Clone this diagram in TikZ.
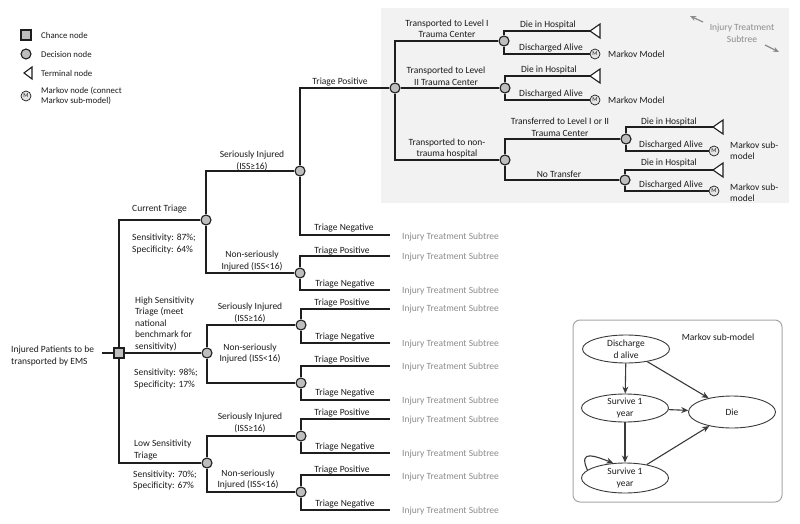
\documentclass[tikz,border=0pt]{standalone}
\usepackage{fontspec}
\setmainfont{Carlito}
\usetikzlibrary{arrows.meta,shapes.geometric}
\definecolor{ln}{HTML}{1E1E1E}
\definecolor{dfill}{HTML}{BEBEBE}
\definecolor{txt}{HTML}{1C1C1C}
\definecolor{subc}{HTML}{8C8C8C}
\definecolor{boxgray}{HTML}{F2F2F2}
\definecolor{mline}{HTML}{3A3A3A}
\tikzset{
  br/.style={draw=ln,line width=1.4pt},
  dec/.style={circle,draw=ln,line width=1.1pt,fill=dfill,minimum size=10pt,inner sep=0pt},
  chn/.style={rectangle,draw=ln,line width=1.1pt,fill=dfill,minimum size=10pt,inner sep=0pt},
  mk/.style={circle,draw=ln,line width=0.7pt,fill=gray!20,minimum size=10pt,inner sep=0pt,text=txt,font=\fontsize{6}{6}\selectfont},
  lbl/.style={text=txt,font=\fontsize{9.5}{11.5}\selectfont,inner sep=0pt,align=center},
  lbll/.style={lbl,align=left,anchor=west},
  lgl/.style={lbll,font=\fontsize{8.8}{10.5}\selectfont},
  subt/.style={text=subc,font=\fontsize{9.5}{11.5}\selectfont,inner sep=0pt,anchor=west},
  trm/.style={draw=ln,line width=1.1pt,fill=white,line join=miter},
  mell/.style={ellipse,draw=mline,line width=0.9pt,fill=white,minimum width=87pt,minimum height=28pt,inner sep=0pt,align=center,text=txt,font=\fontsize{9.5}{11.5}\selectfont},
  marr/.style={draw=mline,line width=1.1pt,-{Stealth[length=7pt,width=6pt]}},
  garr/.style={draw=subc,line width=1.2pt,-{Stealth[length=6pt,width=5pt]}}
}
\newcommand\termtri[2]{\coordinate (#1) at #2; \draw[trm] (#1) -- ++(10,-7) -- ++(0,14) -- cycle;}
\begin{document}
\begin{tikzpicture}[x=1pt,y=-1pt]
\useasboundingbox (0,0) rectangle (800,524);
\fill[white] (0,0) rectangle (800,524);
% shaded subtree box
\fill[boxgray] (381,8) rectangle (789,203);

% ---------- legend ----------
\node[chn] (lgc) at (26,35) {};
\node[lgl] (lgct) at (41,35) {Chance node};
\node[dec] (lgd) at (26,54) {};
\node[lgl] (lgdt) at (41,54) {Decision node};
\coordinate (lgtpos) at (24,73);
\draw[trm] (lgtpos) -- ++(8,-6) -- ++(0,12) -- cycle;
\node[lgl] (lgtt) at (41,73) {Terminal node};
\node[mk] (lgm) at (26,96) {M};
\node[lgl] (lgmt) at (41,96) {Markov node (connect\\Markov sub-model)};

% ---------- root ----------
\node[lbll] (roott) at (11,356) {Injured Patients to be\\transported by EMS};
\coordinate (r0) at (102,353);
\node[chn] (ch) at (119,353) {};
\draw[br] (r0) -- (ch);

% ---------- strategy decisions ----------
\node[dec] (d1) at (206,220) {};
\node[dec] (d2) at (207,353) {};
\node[dec] (d3) at (207,463) {};
\draw[br] (ch) |- (d1);
\draw[br] (ch) -- (d2);
\draw[br] (ch) |- (d3);

\node[lbll] (d1t) at (132,209) {Current Triage};
\node[lbll] (d1s) at (132,244) {Sensitivity: 87\%;\\Specificity: 64\%};
\node[lbll] (d2t) at (135,323.5) {High Sensitivity\\Triage (meet\\national\\benchmark for\\sensitivity)};
\node[lbll] (d2s) at (134,379) {Sensitivity: 98\%;\\Specificity: 17\%};
\node[lbll] (d3t) at (134,450) {Low Sensitivity\\Triage};
\node[lbll] (d3s) at (133,480.5) {Sensitivity: 70\%;\\Specificity: 67\%};

% ---------- injury severity decisions ----------
\node[dec] (s1) at (300,171) {};
\node[dec] (n1) at (300,273) {};
\node[dec] (s2) at (301,325) {};
\node[dec] (n2) at (301,383) {};
\node[dec] (s3) at (301,436) {};
\node[dec] (n3) at (301,492) {};
\draw[br] (d1) |- (s1);
\draw[br] (d1) |- (n1);
\draw[br] (d2) |- (s2);
\draw[br] (d2) |- (n2);
\draw[br] (d3) |- (s3);
\draw[br] (d3) |- (n3);

\node[lbl] (s1t) at (252,161) {Seriously Injured\\(ISS≥16)};
\node[lbl] (n1t) at (252,261) {Non-seriously\\Injured (ISS<16)};
\node[lbl] (s2t) at (250,313) {Seriously Injured\\(ISS≥16)};
\node[lbl] (n2t) at (250,353.5) {Non-seriously\\Injured (ISS<16)};
\node[lbl] (s3t) at (250,423) {Seriously Injured\\(ISS≥16)};
\node[lbl] (n3t) at (248,479.5) {Non-seriously\\Injured (ISS<16)};

% ---------- triage outcome ends ----------
\node[dec] (tp1) at (395,88) {};
\draw[br] (s1) |- (tp1);
\node[lbl] (tp1t) at (340,82) {Triage Positive};
\coordinate (e1) at (390,235);
\draw[br] (s1) |- (e1);
\node[lbl] (tn1t) at (344,228) {Triage Negative};
\node[subt] (e1t) at (402,237) {Injury Treatment Subtree};

\coordinate (e2) at (390,256); \coordinate (e3) at (390,290);
\draw[br] (n1) |- (e2); \draw[br] (n1) |- (e3);
\node[lbl] (tp2t) at (342,251) {Triage Positive};
\node[lbl] (tn2t) at (345,284) {Triage Negative};
\node[subt] (e2t) at (402,257) {Injury Treatment Subtree};
\node[subt] (e3t) at (402,291) {Injury Treatment Subtree};

\coordinate (e4) at (390,309); \coordinate (e5) at (390,343);
\draw[br] (s2) |- (e4); \draw[br] (s2) |- (e5);
\node[lbl] (tp3t) at (342,303) {Triage Positive};
\node[lbl] (tn3t) at (345,337) {Triage Negative};
\node[subt] (e4t) at (402,309) {Injury Treatment Subtree};
\node[subt] (e5t) at (402,344) {Injury Treatment Subtree};

\coordinate (e6) at (390,366); \coordinate (e7) at (390,400);
\draw[br] (n2) |- (e6); \draw[br] (n2) |- (e7);
\node[lbl] (tp4t) at (342,360) {Triage Positive};
\node[lbl] (tn4t) at (345,393) {Triage Negative};
\node[subt] (e6t) at (402,367) {Injury Treatment Subtree};
\node[subt] (e7t) at (402,401) {Injury Treatment Subtree};

\coordinate (e8) at (390,419); \coordinate (e9) at (390,453);
\draw[br] (s3) |- (e8); \draw[br] (s3) |- (e9);
\node[lbl] (tp5t) at (342,413) {Triage Positive};
\node[lbl] (tn5t) at (345,447) {Triage Negative};
\node[subt] (e8t) at (402,420) {Injury Treatment Subtree};
\node[subt] (e9t) at (402,454) {Injury Treatment Subtree};

\coordinate (e10) at (390,475); \coordinate (e11) at (390,510);
\draw[br] (n3) |- (e10); \draw[br] (n3) |- (e11);
\node[lbl] (tp6t) at (342,470) {Triage Positive};
\node[lbl] (tn6t) at (345,504) {Triage Negative};
\node[subt] (e10t) at (402,477) {Injury Treatment Subtree};
\node[subt] (e11t) at (402,511) {Injury Treatment Subtree};

% ---------- injury treatment subtree ----------
\node[dec] (L1) at (504,41) {};
\node[dec] (L2) at (505,88) {};
\node[dec] (NT) at (505,160) {};
\draw[br] (tp1) |- (L1);
\draw[br] (tp1) -- (L2);
\draw[br] (tp1) |- (NT);
\node[lbl] (L1t) at (447,28.5) {Transported to Level I\\Trauma Center};
\node[lbl] (L2t) at (446,76) {Transported to Level\\II Trauma Center};
\node[lbl] (NTt) at (447,148.5) {Transported to non-\\trauma hospital};

\termtri{t1}{(590,31)}
\node[mk] (m1) at (595,54) {M};
\draw[br] (L1) |- (t1);
\draw[br] (L1) |- (m1);
\node[lbl] (t1t) at (548,25) {Die in Hospital};
\node[lbl] (m1t) at (551,48) {Discharged Alive};
\node[lbll] (m1n) at (608,54) {Markov Model};

\termtri{t2}{(590,76)}
\node[mk] (m2) at (595,100) {M};
\draw[br] (L2) |- (t2);
\draw[br] (L2) |- (m2);
\node[lbl] (t2t) at (549,70) {Die in Hospital};
\node[lbl] (m2t) at (551,94) {Discharged Alive};
\node[lbll] (m2n) at (608,100) {Markov Model};

\node[dec] (TR) at (626,139) {};
\node[dec] (NO) at (625,180) {};
\draw[br] (NT) |- (TR);
\draw[br] (NT) |- (NO);
\node[lbl] (TRt) at (560,127) {Transferred to Level I or II\\Trauma Center};
\node[lbl] (NOt) at (559,174.5) {No Transfer};

\termtri{t3}{(713,127)}
\node[mk] (m3) at (714,151) {M};
\draw[br] (TR) |- (t3);
\draw[br] (TR) |- (m3);
\node[lbl] (t3t) at (669,121.5) {Die in Hospital};
\node[lbl] (m3t) at (671,145) {Discharged Alive};
\node[lbll] (m3n) at (730,150.5) {Markov sub-\\model};

\termtri{t4}{(713,170)}
\node[mk] (m4) at (714,191) {M};
\draw[br] (NO) |- (t4);
\draw[br] (NO) |- (m4);
\node[lbl] (t4t) at (669,163) {Die in Hospital};
\node[lbl] (m4t) at (671,185.5) {Discharged Alive};
\node[lbll] (m4n) at (730,192.5) {Markov sub-\\model};

\node[lbl,text=subc] (itst) at (742,33.5) {Injury Treatment\\Subtree};
\coordinate (ga1) at (703,22); \coordinate (ga1e) at (690,16);
\coordinate (ga2) at (765,45); \coordinate (ga2e) at (779,52);
\draw[garr] (ga1) -- (ga1e);
\draw[garr] (ga2) -- (ga2e);

% ---------- Markov sub-model ----------
\draw[draw=gray!70,line width=1pt,rounded corners=7pt] (573,320) rectangle (782,502);
\node[lbl] (mkt) at (718,337) {Markov sub-model};
\node[mell] (dis) at (626,349) {Discharge\\d alive};
\node[mell] (sv1) at (625,408) {Survive 1\\year};
\node[mell,minimum height=30pt] (sv2) at (625,478) {Survive 1\\year};
\node[mell,minimum height=32pt] (die) at (732,412) {Die};
\draw[marr] (dis) -- (sv1);
\draw[marr] (dis) -- (die);
\draw[marr] (sv1) -- (die);
\draw[marr] (sv1) -- (sv2);
\draw[marr] (sv2) -- (die);
\draw[marr] (sv2.168) .. controls +(-10,-22) and +(-16,-6) .. (sv2.128);
\end{tikzpicture}
\end{document}
